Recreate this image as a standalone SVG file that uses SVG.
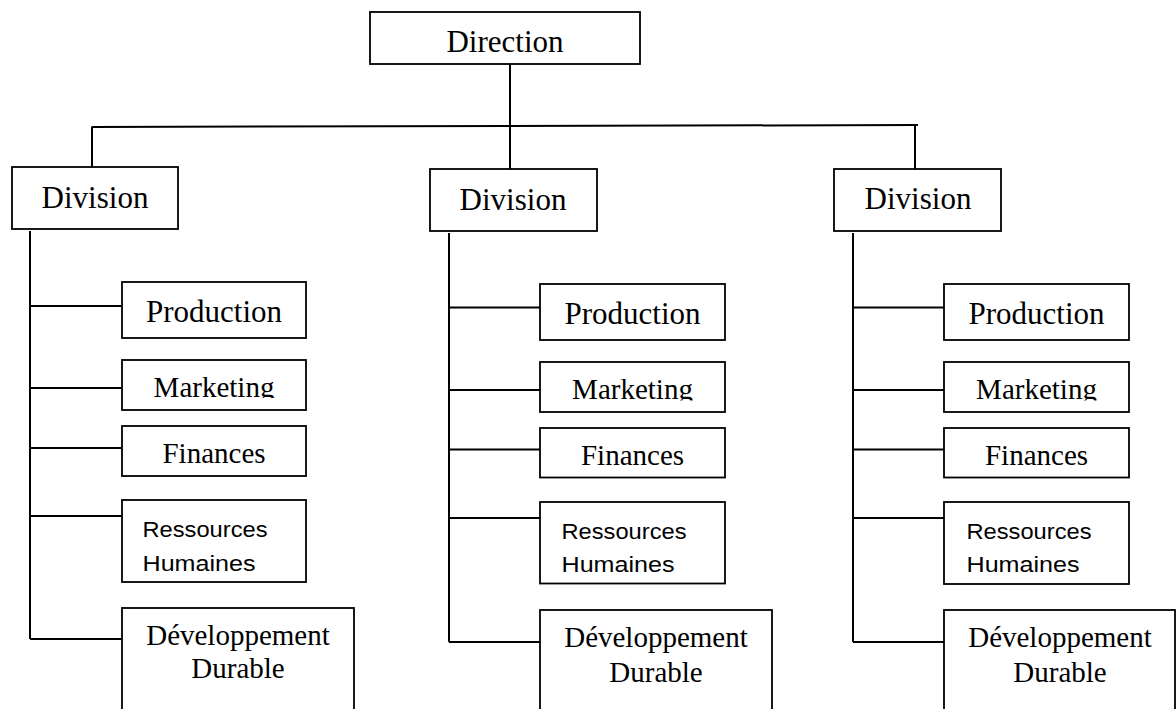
<svg xmlns="http://www.w3.org/2000/svg" width="1176" height="709" viewBox="0 0 1176 709">
<style>
.box{fill:#fff;stroke:#000;stroke-width:1.8}
.ln{stroke:#000;stroke-width:2;fill:none}
.t{font-family:"Liberation Serif","Times New Roman",serif;fill:#000;text-anchor:middle}
.b{font-size:31px}
.s{font-size:29px}
.ss{font-family:"Liberation Sans",Arial,sans-serif;font-size:22.5px;fill:#000}
</style>
<defs>
<clipPath id="cpL"><rect x="122" y="360" width="184" height="38"/></clipPath>
<clipPath id="cpM"><rect x="540" y="362" width="185" height="38.5"/></clipPath>
<clipPath id="cpR"><rect x="944" y="362" width="185" height="38.5"/></clipPath>
</defs>
<rect width="1176" height="709" fill="#fff"/>
<g id="connectors">
<line class="ln" x1="510" y1="64" x2="510" y2="169"/>
<line class="ln" x1="92" y1="127" x2="918" y2="125"/>
<line class="ln" x1="92" y1="126.5" x2="92" y2="167"/>
<line class="ln" x1="915" y1="125" x2="915" y2="169"/>
<line class="ln" x1="30" y1="231" x2="30" y2="639"/>
<line class="ln" x1="30" y1="306" x2="122" y2="306"/>
<line class="ln" x1="30" y1="388" x2="122" y2="388"/>
<line class="ln" x1="30" y1="448" x2="122" y2="448"/>
<line class="ln" x1="30" y1="516" x2="122" y2="516"/>
<line class="ln" x1="30" y1="639" x2="122" y2="639"/>
<line class="ln" x1="449" y1="233" x2="449" y2="642"/>
<line class="ln" x1="449" y1="307.5" x2="540" y2="307.5"/>
<line class="ln" x1="449" y1="390" x2="540" y2="390"/>
<line class="ln" x1="449" y1="449.5" x2="540" y2="449.5"/>
<line class="ln" x1="449" y1="518" x2="540" y2="518"/>
<line class="ln" x1="449" y1="642" x2="540" y2="642"/>
<line class="ln" x1="853" y1="233" x2="853" y2="642"/>
<line class="ln" x1="853" y1="307.5" x2="944" y2="307.5"/>
<line class="ln" x1="853" y1="390" x2="944" y2="390"/>
<line class="ln" x1="853" y1="449.5" x2="944" y2="449.5"/>
<line class="ln" x1="853" y1="518" x2="944" y2="518"/>
<line class="ln" x1="853" y1="642" x2="944" y2="642"/>
</g>
<g id="direction"><rect class="box" x="370" y="12" width="270" height="52"/><text class="t b" x="505" y="52">Direction</text></g>
<g id="divL"><rect class="box" x="12" y="167" width="166" height="62"/><text class="t b" x="95" y="208">Division</text></g>
<g id="divM"><rect class="box" x="430" y="169" width="167" height="62"/><text class="t b" x="513" y="210">Division</text></g>
<g id="divR"><rect class="box" x="834" y="169" width="167" height="62"/><text class="t b" x="918" y="209">Division</text></g>

<g id="prodL"><rect class="box" x="122" y="282" width="184" height="56"/><text class="t b" x="214" y="322">Production</text></g>
<g id="mktL"><rect class="box" x="122" y="360" width="184" height="50"/><text class="t s" x="214" y="397" clip-path="url(#cpL)">Marketing</text></g>
<g id="finL"><rect class="box" x="122" y="426" width="184" height="50"/><text class="t s" x="214" y="463">Finances</text></g>
<g id="rhL"><rect class="box" x="122" y="500" width="184" height="82"/><text class="ss" x="142.5" y="537" textLength="125" lengthAdjust="spacingAndGlyphs">Ressources</text><text class="ss" x="142.5" y="570.5" textLength="113" lengthAdjust="spacingAndGlyphs">Humaines</text></g>
<g id="devL"><rect class="box" x="122" y="608" width="232" height="120"/><text class="t s" x="238" y="645">Développement</text><text class="t s" x="238" y="678">Durable</text></g>

<g id="prodM"><rect class="box" x="540" y="284" width="185" height="56"/><text class="t b" x="632.5" y="323.5">Production</text></g>
<g id="mktM"><rect class="box" x="540" y="362" width="185" height="50"/><text class="t s" x="632.5" y="399" clip-path="url(#cpM)">Marketing</text></g>
<g id="finM"><rect class="box" x="540" y="428" width="185" height="49.5"/><text class="t s" x="632.5" y="465">Finances</text></g>
<g id="rhM"><rect class="box" x="540" y="502" width="185" height="81.5"/><text class="ss" x="561.5" y="539" textLength="125" lengthAdjust="spacingAndGlyphs">Ressources</text><text class="ss" x="561.5" y="572" textLength="113" lengthAdjust="spacingAndGlyphs">Humaines</text></g>
<g id="devM"><rect class="box" x="540" y="610" width="232" height="120"/><text class="t s" x="656" y="647">Développement</text><text class="t s" x="656" y="681.5">Durable</text></g>

<g id="prodR"><rect class="box" x="944" y="284" width="185" height="56"/><text class="t b" x="1036.5" y="323.5">Production</text></g>
<g id="mktR"><rect class="box" x="944" y="362" width="185" height="50"/><text class="t s" x="1036.5" y="399" clip-path="url(#cpR)">Marketing</text></g>
<g id="finR"><rect class="box" x="944" y="428" width="185" height="49.5"/><text class="t s" x="1036.5" y="465">Finances</text></g>
<g id="rhR"><rect class="box" x="944" y="502" width="185" height="82"/><text class="ss" x="966.5" y="539" textLength="125" lengthAdjust="spacingAndGlyphs">Ressources</text><text class="ss" x="966.5" y="572" textLength="113" lengthAdjust="spacingAndGlyphs">Humaines</text></g>
<g id="devR"><rect class="box" x="944" y="610" width="231" height="120"/><text class="t s" x="1060" y="647">Développement</text><text class="t s" x="1060" y="681.5">Durable</text></g>
</svg>
